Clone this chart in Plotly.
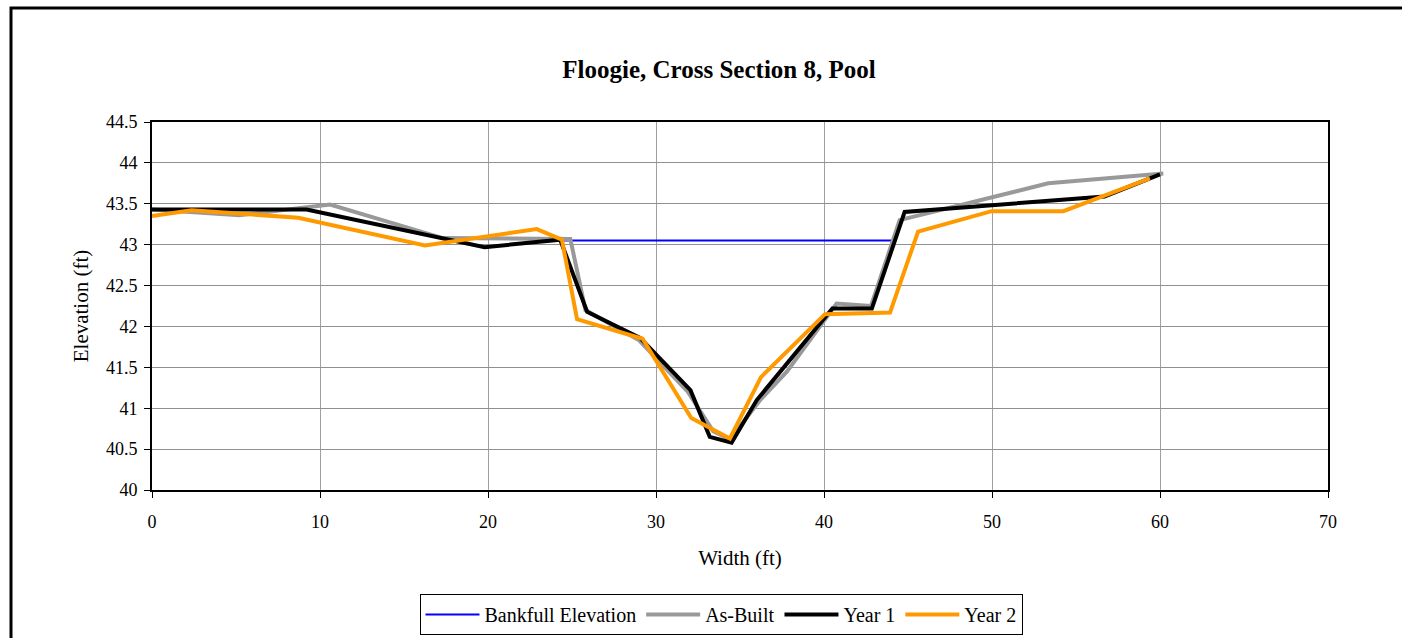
import plotly.graph_objects as go

bankfull_x = [24.5, 44.0]
bankfull_y = [43.05, 43.05]

asbuilt_x = [0, 2.3, 5.2, 10.6, 17.3, 24.9, 25.8, 29.0, 31.9, 33.4, 34.4, 36.2, 37.8, 40.75, 42.8, 44.5, 53.35, 60.2]
asbuilt_y = [43.43, 43.40, 43.36, 43.49, 43.08, 43.07, 42.20, 41.83, 41.20, 40.72, 40.62, 41.10, 41.45, 42.28, 42.25, 43.30, 43.75, 43.87]

year1_x = [0, 9.2, 19.8, 24.3, 25.9, 29.05, 32.05, 33.2, 34.5, 36.0, 40.5, 42.85, 44.8, 56.7, 60.0]
year1_y = [43.43, 43.43, 42.97, 43.06, 42.18, 41.86, 41.22, 40.65, 40.58, 41.10, 42.22, 42.22, 43.40, 43.59, 43.86]

year2_x = [0, 2.36, 8.7, 16.25, 22.9, 24.4, 25.3, 29.2, 32.1, 34.4, 36.25, 40.06, 43.93, 45.6, 49.98, 54.25, 59.4]
year2_y = [43.35, 43.42, 43.33, 42.99, 43.19, 43.06, 42.09, 41.85, 40.88, 40.63, 41.38, 42.15, 42.17, 43.16, 43.41, 43.41, 43.81]

FONT = "Liberation Serif"

fig = go.Figure()
fig.add_trace(go.Scatter(x=bankfull_x, y=bankfull_y, mode="lines", name="Bankfull Elevation",
                         line=dict(color="#0000FF", width=2)))
fig.add_trace(go.Scatter(x=asbuilt_x, y=asbuilt_y, mode="lines", name="As-Built",
                         line=dict(color="#999999", width=4)))
fig.add_trace(go.Scatter(x=year1_x, y=year1_y, mode="lines", name="Year 1",
                         line=dict(color="#000000", width=4)))
fig.add_trace(go.Scatter(x=year2_x, y=year2_y, mode="lines", name="Year 2",
                         line=dict(color="#FF9900", width=4)))

W, H = 1402, 638
L, R, T, B = 152, 1328, 122, 490

def px_x(p):
    return (p - L) / (R - L)

def px_y(p):
    return (B - p) / (B - T)

fig.update_layout(
    width=W, height=H,
    margin=dict(l=L, r=W - R, t=T, b=H - B, autoexpand=False),
    paper_bgcolor="white", plot_bgcolor="white",
    font=dict(family=FONT, size=18, color="black"),
    title=dict(text="<b>Floogie, Cross Section 8, Pool</b>", x=px_x(719), xref="paper",
               xanchor="center", y=1 - 69 / H, yanchor="middle",
               font=dict(family=FONT, size=25, color="black")),
    showlegend=True,
    legend=dict(orientation="h", x=px_x(721), xanchor="center", y=px_y(594), yanchor="top",
                bordercolor="black", borderwidth=1, bgcolor="white",
                font=dict(family=FONT, size=20, color="black"),
                itemwidth=54, tracegroupgap=0),
    xaxis=dict(range=[0, 70], dtick=10, tick0=0, showgrid=True, gridcolor="#A0A0A0", gridwidth=1,
               showline=True, linecolor="black", linewidth=2, mirror=True,
               ticks="outside", ticklen=6, tickcolor="black", zeroline=False,
               automargin=False, ticklabelstandoff=8,
               title=dict(text="Width (ft)", font=dict(family=FONT, size=21), standoff=20),
               tickfont=dict(family=FONT, size=18)),
    yaxis=dict(range=[40, 44.5], dtick=0.5, tick0=40, showgrid=True, gridcolor="#909090", gridwidth=1,
               showline=True, linecolor="black", linewidth=2, mirror=True,
               ticks="outside", ticklen=6, tickcolor="black", zeroline=False,
               automargin=False, ticklabelstandoff=3,
               title=dict(text="Elevation (ft)", font=dict(family=FONT, size=21), standoff=12),
               tickfont=dict(family=FONT, size=18)),
)

# outer chart frame (extends beyond the visible window on the right and bottom)
fig.add_shape(type="rect", xref="paper", yref="paper",
              x0=px_x(11), x1=px_x(1500), y0=px_y(700), y1=px_y(8),
              line=dict(color="black", width=3), fillcolor="rgba(0,0,0,0)", layer="below")

fig.write_html("out.html", config={"displayModeBar": False},
               post_script="document.body.style.margin='0';document.body.style.overflow='hidden';")
